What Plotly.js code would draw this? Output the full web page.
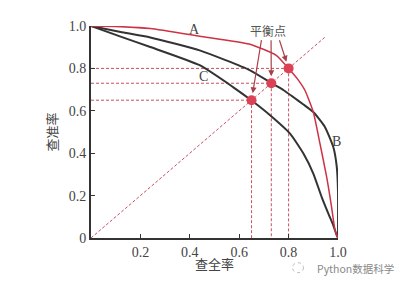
<!DOCTYPE html>
<html>
<head>
<meta charset="utf-8">
<script src="https://cdn.plot.ly/plotly-3.0.1.min.js"></script>
<style>html,body{margin:0;padding:0;background:#fff;}#chart{width:403px;height:282px;}</style>
</head>
<body>
<div id="chart"></div>
<script>
// Curve A (red)
const recallA = [0, 0.12, 0.24, 0.44, 0.64, 0.75, 0.80, 0.835, 0.866, 0.90, 0.927, 0.954, 0.974, 0.988, 1.0];
const precisionA = [1.0, 0.997, 0.988, 0.952, 0.915, 0.862, 0.80, 0.752, 0.697, 0.594, 0.445, 0.288, 0.146, 0.036, 0];
// Curve B (outer black)
const recallB = [0, 0.12, 0.24, 0.44, 0.644, 0.734, 0.78, 0.82, 0.86, 0.90, 0.947, 0.981, 0.995, 1.0, 1.0];
const precisionB = [1.0, 0.972, 0.946, 0.885, 0.791, 0.728, 0.697, 0.664, 0.630, 0.594, 0.524, 0.429, 0.335, 0.22, 0];
// Curve C (inner black)
const recallC = [0, 0.12, 0.24, 0.44, 0.575, 0.653, 0.725, 0.806, 0.86, 0.90, 0.934, 0.961, 0.981, 0.995, 1.0];
const precisionC = [1.0, 0.950, 0.901, 0.815, 0.712, 0.646, 0.579, 0.492, 0.398, 0.304, 0.193, 0.115, 0.06, 0.012, 0];
// Break-even points (A, B, C)
const bepNames = ["A", "B", "C"];
const bepValues = [0.80, 0.73, 0.65];
// diagonal P = R
const diagonal = [0, 0.952];
// tick labels
const xTickVals = [0.2, 0.4, 0.6, 0.8, 1.0];
const xTickText = ["0.2", "0.4", "0.6", "0.8", "1.0"];
const yTickVals = [0, 0.2, 0.4, 0.6, 0.8, 1.0];
const yTickText = ["0", "0.2", "0.4", "0.6", "0.8", "1.0"];
// arrow tails (near the label) for A, B, C break-even points
const arrowTailX = [0.761, 0.729, 0.691];
const arrowTailY = [0.94, 0.94, 0.94];

const red = "#cc3344";
const dashRed = "#c8505c";
const dark = "#333333";

const traces = [];
traces.push({x: diagonal, y: diagonal, mode: "lines", line: {color: dashRed, width: 1, dash: "3px,2px"}, hoverinfo: "skip"});
bepValues.forEach(v => {
  traces.push({x: [0, v], y: [v, v], mode: "lines", line: {color: dashRed, width: 1, dash: "3px,2px"}, hoverinfo: "skip"});
  traces.push({x: [v, v], y: [v, 0], mode: "lines", line: {color: dashRed, width: 1, dash: "3px,2px"}, hoverinfo: "skip"});
});
traces.push({x: recallC, y: precisionC, mode: "lines", line: {color: dark, width: 2, shape: "spline", smoothing: 0.5}});
traces.push({x: recallB, y: precisionB, mode: "lines", line: {color: dark, width: 2, shape: "spline", smoothing: 0.5}});
traces.push({x: recallA, y: precisionA, mode: "lines", line: {color: red, width: 1.5, shape: "spline", smoothing: 0.5}});
traces.push({x: bepValues, y: bepValues, mode: "markers", marker: {color: "#dc4255", size: 10}, cliponaxis: false});

const serif = "Liberation Serif, DejaVu Serif, serif";
const cjk = "Noto Sans CJK SC, Noto Sans, sans-serif";
const annotations = [
  {x: 0.417, xref: "x", yref: "paper", y: 1.03, text: "A", showarrow: false, font: {family: serif, size: 14, color: "#444"}},
  {x: 0.457, y: 0.763, text: "C", showarrow: false, font: {family: serif, size: 14, color: "#444"}},
  {x: 0.992, y: 0.456, text: "B", showarrow: false, font: {family: serif, size: 14, color: "#444"}},
  {x: 0.717, xref: "x", yref: "paper", y: 1.03, text: "平衡点", showarrow: false, font: {family: cjk, size: 12, color: "#555"}},
  {xref: "paper", yref: "paper", x: 0.5, y: -0.121, yanchor: "middle", xanchor: "center", text: "查全率", showarrow: false, font: {family: cjk, size: 13, color: "#444"}},
  {xref: "paper", yref: "paper", x: 1.07, y: -0.142, yanchor: "middle", xanchor: "center", text: "Python数据科学", showarrow: false, font: {family: cjk, size: 10.5, color: "#888"}}
];
bepValues.forEach((v, i) => {
  annotations.push({x: v, y: v, ax: arrowTailX[i], ay: arrowTailY[i], axref: "x", ayref: "y", xref: "x", yref: "y",
    text: "", showarrow: true, arrowhead: 2, arrowsize: 1, arrowwidth: 1.2, arrowcolor: "#a8404c", standoff: 7});
});

const layout = {
  width: 403, height: 282,
  margin: {l: 91, r: 65, t: 26, b: 44, pad: 0},
  paper_bgcolor: "#fff", plot_bgcolor: "#fff",
  showlegend: false,
  xaxis: {range: [0, 1], tickvals: xTickVals, ticktext: xTickText, ticks: "inside", ticklen: 4, tickcolor: dark,
    showgrid: false, zeroline: false, showline: true, linecolor: dark, linewidth: 2,
    tickfont: {family: serif, size: 14, color: "#444"}},
  yaxis: {range: [0, 1], tickvals: yTickVals, ticktext: yTickText, ticks: "inside", ticklen: 4, tickcolor: dark,
    showgrid: false, zeroline: false, showline: true, linecolor: dark, linewidth: 2,
    tickfont: {family: serif, size: 14, color: "#444"},
    title: {text: "查准率", font: {family: cjk, size: 13, color: "#444"}, standoff: 8}},
  annotations: annotations,
  shapes: [
    {type: "circle", xref: "paper", yref: "paper", xsizemode: "pixel", ysizemode: "pixel", xanchor: 0.84, yanchor: -0.14,
      x0: -6, x1: 5, y0: -5, y1: 5, line: {color: "#bbb", width: 1, dash: "dot"}}
  ]
};
Plotly.newPlot("chart", traces, layout, {staticPlot: true, displayModeBar: false});
</script>
</body>
</html>
